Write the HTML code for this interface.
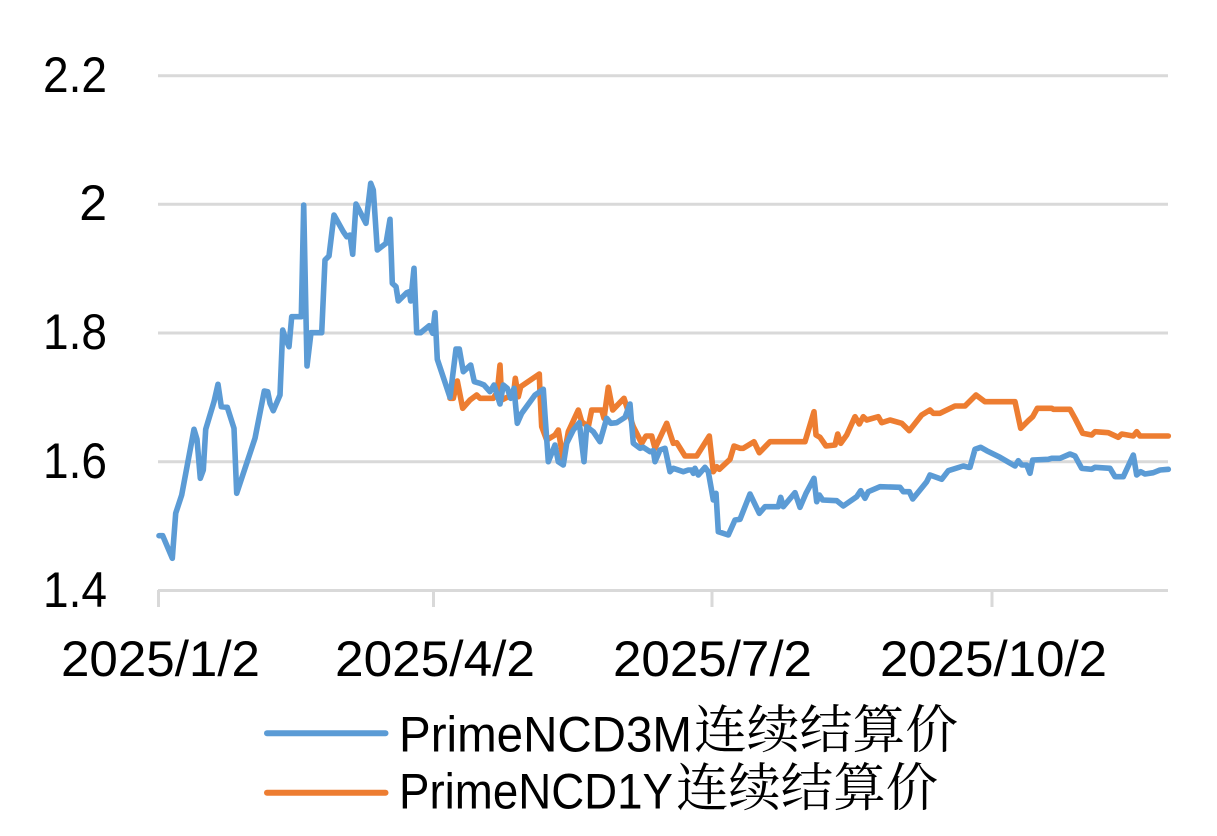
<!DOCTYPE html>
<html>
<head>
<meta charset="utf-8">
<style>
  html, body { margin: 0; padding: 0; background: #ffffff; }
  body { width: 1217px; height: 836px; overflow: hidden; }
  svg { display: block; }
  .ax { font-family: "Liberation Sans", sans-serif; font-size: 50px; fill: #000; }
  .lg { font-family: "Liberation Sans", sans-serif; font-size: 50px; fill: #000; }
  .cjk { font-family: "Noto Serif CJK SC", "Noto Sans CJK SC", serif; font-size: 52px; fill: #000; }
</style>
</head>
<body>
<svg width="1217" height="836" viewBox="0 0 1217 836" xmlns="http://www.w3.org/2000/svg">
  <rect x="0" y="0" width="1217" height="836" fill="#ffffff"/>

  <!-- gridlines -->
  <g stroke="#d9d9d9" stroke-width="3" fill="none">
    <line x1="158" y1="75.7" x2="1168" y2="75.7"/>
    <line x1="158" y1="204.3" x2="1168" y2="204.3"/>
    <line x1="158" y1="333" x2="1168" y2="333"/>
    <line x1="158" y1="461.7" x2="1168" y2="461.7"/>
    <line x1="158" y1="590.5" x2="1168" y2="590.5"/>
    <line x1="158.5" y1="590" x2="158.5" y2="607"/>
    <line x1="433.5" y1="590" x2="433.5" y2="607"/>
    <line x1="712" y1="590" x2="712" y2="607"/>
    <line x1="992" y1="590" x2="992" y2="607"/>
  </g>

  <!-- y labels -->
  <g class="ax" text-anchor="end">
    <text x="107" y="92" textLength="64" lengthAdjust="spacingAndGlyphs">2.2</text>
    <text x="107" y="220">2</text>
    <text x="107" y="349" textLength="64" lengthAdjust="spacingAndGlyphs">1.8</text>
    <text x="107" y="478" textLength="64" lengthAdjust="spacingAndGlyphs">1.6</text>
    <text x="107" y="607" textLength="64" lengthAdjust="spacingAndGlyphs">1.4</text>
  </g>

  <!-- x labels -->
  <g class="ax">
    <text x="61" y="676" textLength="199" lengthAdjust="spacingAndGlyphs">2025/1/2</text>
    <text x="335" y="676" textLength="200" lengthAdjust="spacingAndGlyphs">2025/4/2</text>
    <text x="613" y="676" textLength="199" lengthAdjust="spacingAndGlyphs">2025/7/2</text>
    <text x="880" y="676" textLength="227" lengthAdjust="spacingAndGlyphs">2025/10/2</text>
  </g>

  <!-- series: orange (1Y) -->
  <polyline fill="none" stroke="#ed7d31" stroke-width="5.6" stroke-linejoin="round" stroke-linecap="round"
    points="450,398.3 453.3,398.3 457.3,381 462.7,408.3 470,400 476.7,395 480,398.3 493.3,398.3 497.3,391.7 500,365 501.7,400 508.3,396.7 513.3,396.7 515.3,378.3 518.3,396.7 520.7,386.7 539.3,374 540,393.3 541.7,426.7 546.7,440 555,435 558.3,430 563.3,460 568.3,431.7 578.3,410 581.7,421.7 588.3,426.7 591.7,410 601.7,410 604,418.3 608.3,387.3 612.7,410 624,398.3 628.3,411.7 633.3,426.7 641.7,443.3 646,436 651.7,436 655,448.3 666.7,423.3 673.3,443.3 676.7,442.7 685,456 696.7,456 709.3,436 713.3,471.7 716.7,466.7 719.3,469.3 730,459.3 734,446 740,448.3 743.3,448.3 754,441.7 759.3,452.7 770,441.7 805,441.7 814,411.7 816,435 820,437.3 826,446 835,445 837.7,434 840.7,443.3 846.7,435 855,416.7 859.3,424 863.3,416.7 866.7,420 878.3,416.7 881.7,422.7 890,420 901.7,423.3 909.3,430.7 921.7,415 930,410 933.3,413.3 940,413.3 946.7,410 955,406 965,406 976,395 985,401.7 1015,401.7 1020.7,428.3 1028.3,420.7 1032.7,416.7 1037.3,408.3 1051.7,408.3 1053.3,409.3 1070,409.3 1075,418.3 1082.7,433.3 1091.7,435 1095,431.7 1108.3,432.7 1118.3,437.3 1121.7,434 1133.3,436 1136.7,431.7 1140,436 1168.3,436"/>

  <!-- series: blue (3M) -->
  <polyline fill="none" stroke="#5b9bd5" stroke-width="5.6" stroke-linejoin="round" stroke-linecap="round"
    points="159,535.7 162.7,535.7 172.3,558.3 175.7,513.3 181.7,495 194,429.3 197,439.3 200.3,478.3 203.3,470 205.7,429.3 214,401.7 218,384.3 221.3,406.7 227.3,407.3 234,428.3 236.7,493.3 255,438.3 264.3,391 267.7,391.7 270,403.3 273.3,410.7 280,395 282.7,330 286,340 289,346.7 291.7,316.7 301.3,316.7 303.7,205 307,366 311,332.7 321.7,332.7 325,260 329,256 334,215 343.3,231.7 346.7,236.7 350,235 352.7,254.3 356,204 361.7,215 366,223.3 370.7,183.3 373.3,190 377.3,250 386,243.3 390,219.3 392.3,283.3 396,286.7 398.3,301 406.7,292.7 409.3,291.7 410.7,301 414,268.3 416.7,332.7 420.7,332.7 429.3,325.7 432.7,333.3 435,312.7 437.3,359.3 450,397.3 456,349 459.3,349 463.3,371.7 470.7,365 474.3,381.7 480,383.3 484,385 490,391.7 494,385 500,404 503.3,385 507.3,388.3 510.7,398.3 514,388.3 517.3,423.3 521.7,413.3 535,395 543.3,389.3 545,415 548.3,461.7 555,445 558.3,461.7 563.3,465 566.7,443.3 573.3,430 579.3,422.7 584,461.7 586.7,426.7 593.3,431.7 600,441.7 606.7,418.3 610.7,423.3 616.7,422.7 625,417.3 630,404 633.3,443.3 640,448.3 643.3,447.3 650,451.7 653.3,450.7 655,461.7 660,450 665,448.3 670,471.7 673.3,468.3 683.3,471.7 688.3,470 691.7,470 693.3,473.3 695,468.3 698.3,475 705,467.3 708.3,471.7 713.3,500 716,493.3 718.3,531.7 728.3,535 735,520 740,519.3 750,494 759.3,513.3 765,506.7 778.3,506.7 780.7,497.3 783.3,506.7 795,492.7 800,507.3 806,493.3 814,478.3 816.7,501.7 819.3,495 822.7,500 836.7,500.7 843.3,506 856.7,496.7 860.7,490.7 865,498.3 868.3,491.7 880,486.7 900,487.3 903.3,491.7 909.3,491.7 912.7,499 926.7,481.7 930,475 941.7,479.3 948.3,470.7 963.3,466 968.3,467.3 970,467.3 975,449.3 980.7,447.3 986.7,450.7 1000,457.3 1015,466 1018.3,460.7 1021.7,465 1026.7,465 1030,473.3 1032.7,460 1048.3,459.3 1051.7,458.3 1060,458.3 1070,454 1075,456 1081.7,468.3 1091.7,469.3 1095,467.3 1110,468.3 1115,476.7 1123.3,476.7 1133.3,455 1136.7,475 1140.7,471.7 1145,474 1153.3,472.7 1160,470 1168.3,469.3"/>

  <!-- legend -->
  <line x1="267" y1="733.3" x2="385.5" y2="733.3" stroke="#5b9bd5" stroke-width="6" stroke-linecap="round"/>
  <line x1="267" y1="792.7" x2="385.5" y2="792.7" stroke="#ed7d31" stroke-width="6" stroke-linecap="round"/>

  <text class="lg" x="399" y="751.7" textLength="293" lengthAdjust="spacingAndGlyphs">PrimeNCD3M</text>
  <text class="cjk" x="694" y="748" textLength="264" lengthAdjust="spacingAndGlyphs">连续结算价</text>

  <text class="lg" x="399" y="808.5" textLength="274" lengthAdjust="spacingAndGlyphs">PrimeNCD1Y</text>
  <text class="cjk" x="676" y="806" textLength="262" lengthAdjust="spacingAndGlyphs">连续结算价</text>
</svg>
</body>
</html>
